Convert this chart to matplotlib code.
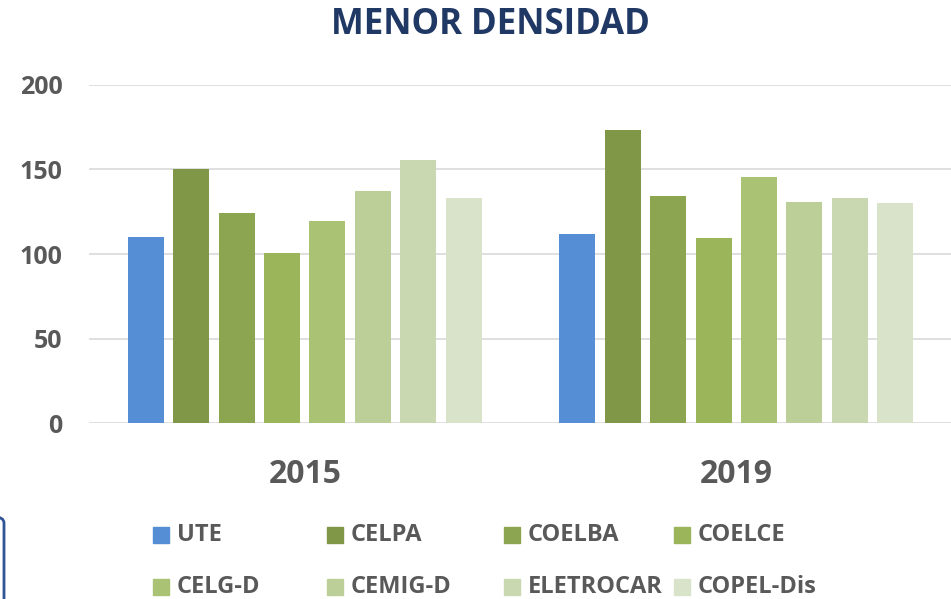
import matplotlib
matplotlib.use('Agg')
import matplotlib.pyplot as plt
from matplotlib.patches import Rectangle, FancyBboxPatch
import numpy as np

plt.rcParams['font.family'] = ['Open Sans', 'DejaVu Sans']
plt.rcParams['font.weight'] = 'bold'

# datos
years = ['2015', '2019']
series = ['UTE', 'CELPA', 'COELBA', 'COELCE', 'CELG-D', 'CEMIG-D', 'ELETROCAR', 'COPEL-Dis']
values = {
    'UTE':       [110, 111.6],
    'CELPA':     [150, 173],
    'COELBA':    [124.2, 134.1],
    'COELCE':    [100.4, 109.5],
    'CELG-D':    [119.5, 145.5],
    'CEMIG-D':   [137, 130.7],
    'ELETROCAR': [155.7, 133.1],
    'COPEL-Dis': [133.1, 130.3],
}
colors = ['#558ED5', '#7F9746', '#8BA550', '#9AB55A', '#A9C274', '#BCCF98', '#CAD8B2', '#D9E3C9']
yticks = [0, 50, 100, 150, 200]

W, H = 951, 599
fig = plt.figure(figsize=(W / 100, H / 100), dpi=100)
ax = fig.add_axes([89 / W, 1 - 423.3 / H, (952 - 89) / W, (423.3 - 84.7) / H])

x = np.arange(len(years))
step = 0.1052
width = 0.0834
for i, name in enumerate(series):
    ax.bar(x + (i - 3.5) * step, values[name], width=width, color=colors[i], zorder=3)

ax.set_xlim(-0.5, 1.5)
ax.set_ylim(0, 200)
ax.set_yticks(yticks)
ax.set_xticks(x)
ax.set_xticklabels(years, fontsize=23, color='#595959', fontweight='bold')
ax.tick_params(axis='y', labelsize=18, colors='#595959', length=0, pad=19)
ax.tick_params(axis='x', length=0, pad=25)
ax.grid(axis='y', color='#D9D9D9', linewidth=1.2, zorder=0)
for s in ax.spines.values():
    s.set_visible(False)
ax.set_facecolor('none')

fig.text(490 / W, 1 - 25 / H, 'MENOR DENSIDAD', ha='center', va='center',
         fontsize=25, fontweight='bold', color='#1F3864')

# leyenda manual (4 columnas, 2 filas)
col_x = [153, 327, 504, 674]
row_y = [535, 587]
for i, name in enumerate(series):
    cx = col_x[i % 4]
    cy = row_y[i // 4]
    fig.patches.append(Rectangle((cx / W, 1 - (cy + 8) / H), 16 / W, 16 / H,
                                 transform=fig.transFigure, color=colors[i]))
    fig.text((cx + 24) / W, 1 - cy / H, name, ha='left', va='center',
             fontsize=17, fontweight='bold', color='#595959')

# borde azul a la izquierda
fig.patches.append(FancyBboxPatch((-20 / W, 1 - 605 / H), 24 / W, 88 / H,
                                  boxstyle='round,pad=0,rounding_size=0.01',
                                  transform=fig.transFigure, fill=False,
                                  edgecolor='#2F5597', linewidth=2))

fig.savefig('out.png', dpi=100)
